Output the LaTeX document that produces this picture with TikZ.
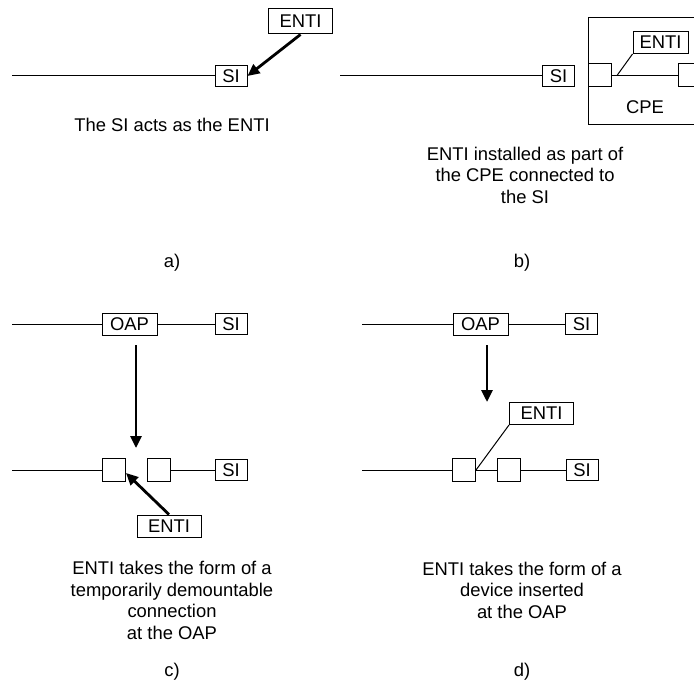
\documentclass[tikz,border=0pt]{standalone}
\usepackage{fontspec}
\setmainfont{Liberation Sans}
\usetikzlibrary{arrows.meta, positioning}

\begin{document}
\begin{tikzpicture}[x=0.5pt, y=-0.5pt, >={Triangle[length=6pt, width=5.5pt]},
        font=\fontsize{9.2}{10.75}\selectfont,
        % Node Styles
        tag/.style={rectangle, draw, line width=0.5pt, inner sep=0pt, minimum height=10.5pt, align=center},
        si/.style={tag, minimum width=16pt},
        enti/.style={tag, minimum width=32pt, minimum height=11pt},
        oap/.style={tag, minimum width=27.5pt, minimum height=11pt},
        port/.style={tag, minimum width=11.5pt, minimum height=11.5pt},
        caption/.style={align=center},
        wire/.style={line width=0.5pt},
        arrow/.style={->, line width=1.4pt}
    ]
    \useasboundingbox (0,0) rectangle (694,689);
    \clip (0,0) rectangle (694,689);

    % --- a) SI acting as ENTI ---
    \coordinate (endA) at (12,76);
    \node[si] (siA) at (231,76) {SI};
    \node[enti, minimum height=12.5pt] (entiA) at (300.5,21.5) {ENTI};
    \draw[wire] (endA) -- (siA);
    \draw[arrow] (entiA.south) -- (siA.east);
    \node[caption] (capA) at (172,125) {The SI acts as the ENTI};
    \node (labA) at (172,263) {a)};

    % --- b) ENTI inside the CPE ---
    \coordinate (endB) at (340,76);
    \node[si] (siB) at (558.5,76) {SI};
    \node[draw, line width=0.5pt, minimum width=57pt, minimum height=53.5pt] (cpe) at (645,71.5) {};
    \node[port] (inB) at (599.5,75.5) {};
    \node[port] (outB) at (689.5,75.5) {};
    \node[enti, minimum width=27.5pt] (entiB) at (660.5,42.5) {ENTI};
    \coordinate (tapB) at (617,75.5);
    \draw[wire] (endB) -- (siB);
    \draw[wire] (inB) -- (outB);
    \draw[wire] (entiB.south west) -- (tapB);
    \node (cpeB) at (645,107) {CPE};
    \node[caption] (capB) at (525,175) {ENTI installed as part of\\the CPE connected to\\the SI};
    \node (labB) at (522,263) {b)};

    % --- c) demountable connection at the OAP ---
    \coordinate (endC1) at (12,324);
    \node[oap] (oapC) at (129.5,324) {OAP};
    \node[si] (siC1) at (231,324) {SI};
    \draw[wire] (endC1) -- (oapC) -- (siC1);
    \coordinate (dnC1) at (136,345);
    \coordinate (dnC2) at (136,448);
    \draw[arrow] (dnC1) -- (dnC2);
    \coordinate (endC2) at (12,470);
    \node[port] (c1) at (113.5,470) {};
    \node[port] (c2) at (158.5,470) {};
    \node[si] (siC2) at (231,470) {SI};
    \draw[wire] (endC2) -- (c1);
    \draw[wire] (c2) -- (siC2);
    \node[enti] (entiC) at (169,526) {ENTI};
    \coordinate (hitC) at (126,473);
    \draw[arrow] (entiC.north) -- (hitC);
    \node[caption] (capC) at (172,600.5) {ENTI takes the form of a\\temporarily demountable\\connection\\at the OAP};
    \node (labC) at (172,672) {c)};

    % --- d) device inserted at the OAP ---
    \coordinate (endD1) at (362,324);
    \node[oap] (oapD) at (480.5,324) {OAP};
    \node[si] (siD1) at (581.5,324) {SI};
    \draw[wire] (endD1) -- (oapD) -- (siD1);
    \coordinate (dnD1) at (487,345);
    \coordinate (dnD2) at (487,402);
    \draw[arrow] (dnD1) -- (dnD2);
    \node[enti] (entiD) at (541.5,413.5) {ENTI};
    \coordinate (endD2) at (362,470);
    \node[port] (d1) at (464,470) {};
    \node[port] (d2) at (509,470) {};
    \node[si] (siD2) at (582,470) {SI};
    \draw[wire] (endD2) -- (d1) -- (d2) -- (siD2);
    \draw[wire] (entiD.south west) -- (d1.east);
    \node[caption] (capD) at (522,590) {ENTI takes the form of a\\device inserted\\at the OAP};
    \node (labD) at (522,672) {d)};

\end{tikzpicture}
\end{document}
